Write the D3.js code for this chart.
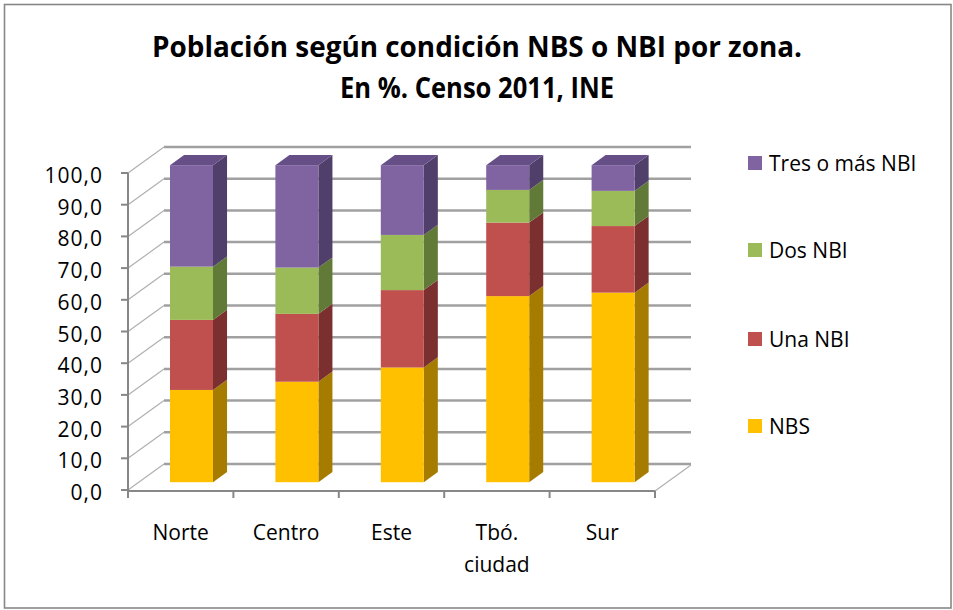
<!DOCTYPE html>
<html>
<head>
<meta charset="utf-8">
<script src="https://cdn.jsdelivr.net/npm/d3@7"></script>
<style>
  html, body { margin: 0; padding: 0; background: #fff; }
  svg { display: block; }
  text { font-family: "Open Sans", "Noto Sans", sans-serif; fill: #000; }
</style>
</head>
<body>
<svg id="chart" width="953" height="610"></svg>
<script>
// Población según condición NBS / NBI por zona (%), Censo 2011, INE
const categories = ["Norte", "Centro", "Este", "Tbó. ciudad", "Sur"];
const categoryLines = [["Norte"], ["Centro"], ["Este"], ["Tbó.", "ciudad"], ["Sur"]];
const seriesNames = ["NBS", "Una NBI", "Dos NBI", "Tres o más NBI"];
const nbs   = [29.1, 31.7, 36.2, 58.7, 59.8];
const una   = [22.1, 21.4, 24.4, 23.2, 21.0];
const dos   = [16.8, 14.6, 17.4, 10.3, 11.1];
const tres  = [32.0, 32.3, 22.0, 7.8, 8.1];
const yTicks = [0, 10, 20, 30, 40, 50, 60, 70, 80, 90, 100];
const titleLines = ["Población según condición NBS o NBI por zona.", "En %. Censo 2011, INE"];

// face colours: front, side, top
const palette = {
  "NBS":            { front: "#FFC000", side: "#A67C00", top: "#D9A300" },
  "Una NBI":        { front: "#C0504D", side: "#7B302F", top: "#A0403D" },
  "Dos NBI":        { front: "#9BBB59", side: "#627A37", top: "#82A049" },
  "Tres o más NBI": { front: "#8064A2", side: "#503F6A", top: "#654F86" }
};

const svg = d3.select("#chart");

// chart area border
svg.append("rect")
  .attr("x", 4.5).attr("y", 4.5).attr("width", 946.5).attr("height", 603.5)
  .attr("fill", "#fff").attr("stroke", "#878787").attr("stroke-width", 1.6);

// title
const title = svg.append("g");
title.selectAll("text").data(titleLines).join("text")
  .attr("x", 477).attr("y", (d, i) => 57 + i * 41)
  .attr("text-anchor", "middle")
  .attr("font-size", 29).attr("font-weight", 700)
  .attr("textLength", (d, i) => i === 0 ? 650 : 274)
  .attr("lengthAdjust", "spacingAndGlyphs")
  .text(d => d);

// 3D projection: depth runs from front plane (z=0) to back wall (z=1)
const depth = { dx: 36, dy: -26 };
const x = d3.scaleBand().domain(categories).range([128, 655]);
const y = d3.scaleLinear().domain([0, 100]).range([490, 173]);

const axisColor = "#878787";
const gridColor = "#a0a0a0";

// back wall gridlines
svg.append("g").selectAll("line").data(yTicks).join("line")
  .attr("x1", x.range()[0] + depth.dx).attr("x2", x.range()[1] + depth.dx)
  .attr("y1", d => y(d) + depth.dy).attr("y2", d => y(d) + depth.dy)
  .attr("stroke", gridColor).attr("stroke-width", 2.5);

// side wall gridlines
svg.append("g").selectAll("line").data(yTicks).join("line")
  .attr("x1", x.range()[0]).attr("y1", d => y(d))
  .attr("x2", x.range()[0] + depth.dx).attr("y2", d => y(d) + depth.dy)
  .attr("stroke", "#b0b0b0").attr("stroke-width", 1.2);

// floor right edge
svg.append("line")
  .attr("x1", x.range()[1]).attr("y1", y(0) + 1)
  .attr("x2", x.range()[1] + depth.dx).attr("y2", y(0) + 1 + depth.dy)
  .attr("stroke", "#b0b0b0").attr("stroke-width", 1.2);

// value axis on the front plane
const yAxisG = svg.append("g");
yAxisG.append("line")
  .attr("x1", 128).attr("x2", 128).attr("y1", y(100)).attr("y2", y(0) + 1)
  .attr("stroke", axisColor).attr("stroke-width", 2);
yAxisG.selectAll(".tick").data(yTicks).join("line")
  .attr("x1", 121).attr("x2", 128).attr("y1", d => y(d)).attr("y2", d => y(d))
  .attr("stroke", axisColor).attr("stroke-width", 2);
yAxisG.selectAll("text").data(yTicks).join("text")
  .attr("x", 103).attr("y", d => y(d) + 10)
  .attr("text-anchor", "end").attr("font-size", 21)
  .attr("letter-spacing", 1)
  .text(d => d3.format(".1f")(d).replace(".", ","));

// category axis on the floor front edge
const xAxisG = svg.append("g");
xAxisG.append("line")
  .attr("x1", 128).attr("x2", 655).attr("y1", y(0) + 1).attr("y2", y(0) + 1)
  .attr("stroke", axisColor).attr("stroke-width", 2);
const edges = categories.map(c => x(c)).concat([x.range()[1]]);
xAxisG.selectAll(".tick").data(edges).join("line")
  .attr("x1", d => d).attr("x2", d => d).attr("y1", y(0) + 1).attr("y2", y(0) + 8)
  .attr("stroke", axisColor).attr("stroke-width", 2);
xAxisG.selectAll("text").data(categories).join("text")
  .attr("x", c => x(c) + x.bandwidth() / 2)
  .attr("y", 540)
  .attr("text-anchor", "middle").attr("font-size", 21)
  .each(function(c, i) {
    d3.select(this).selectAll("tspan").data(categoryLines[i]).join("tspan")
      .attr("x", x(c) + x.bandwidth() / 2)
      .attr("dy", (d, j) => j === 0 ? 0 : 32)
      .text(d => d);
  });

// stacked 3D columns
const table = categories.map((c, i) => ({
  cat: c, "NBS": nbs[i], "Una NBI": una[i], "Dos NBI": dos[i], "Tres o más NBI": tres[i]
}));
const stacked = d3.stack().keys(seriesNames)(table);

const barW = 43;            // front face width
const z0 = 0.30, z1 = 0.69; // bar depth extent
const sdx = (z1 - z0) * depth.dx, sdy = (z1 - z0) * depth.dy;
const barLeft = c => x(c) + x.bandwidth() / 2 - barW / 2 + z0 * depth.dx;
const barY = v => y(v) + z0 * depth.dy;

const bars = svg.append("g");
stacked.forEach((layer, li) => {
  const col = palette[layer.key];
  const g = bars.append("g");
  layer.forEach(seg => {
    const c = seg.data.cat;
    const xl = barLeft(c), xr = xl + barW;
    const yb = barY(seg[0]), yt = barY(seg[1]);
    // side face
    g.append("path")
      .attr("d", d3.line()([[xr, yb], [xr + sdx, yb + sdy], [xr + sdx, yt + sdy], [xr, yt]]) + "Z")
      .attr("fill", col.side);
    // front face
    g.append("rect")
      .attr("x", xl).attr("y", yt).attr("width", barW).attr("height", yb - yt)
      .attr("fill", col.front);
    // top face on the uppermost segment
    if (li === stacked.length - 1) {
      g.append("path")
        .attr("d", d3.line()([[xl, yt], [xr, yt], [xr + sdx, yt + sdy], [xl + sdx, yt + sdy]]) + "Z")
        .attr("fill", col.top);
    }
  });
});

// legend (top series first)
const legendY = [156, 243, 332, 419];
const legend = svg.append("g");
const legendOrder = seriesNames.slice().reverse();
legend.selectAll("rect").data(legendOrder).join("rect")
  .attr("x", 748).attr("y", (d, i) => legendY[i]).attr("width", 14).attr("height", 14)
  .attr("fill", d => palette[d].front);
legend.selectAll("text").data(legendOrder).join("text")
  .attr("x", 769).attr("y", (d, i) => legendY[i] + 15)
  .attr("font-size", 21)
  .text(d => d);
</script>
</body>
</html>
